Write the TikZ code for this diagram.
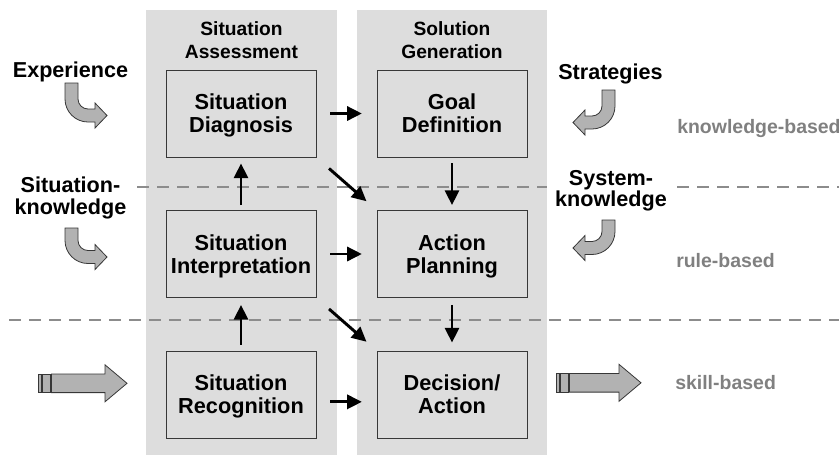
\documentclass[tikz,border=0pt]{standalone}
\usepackage{fontspec}
\setmainfont{Liberation Sans}
\usetikzlibrary{arrows.meta}
\definecolor{PanelGray}{RGB}{221,221,221}
\definecolor{DashGray}{RGB}{140,140,140}
\definecolor{LevelGray}{RGB}{128,128,128}
\definecolor{ArrowGray}{RGB}{178,178,178}
\definecolor{EdgeGray}{RGB}{55,55,55}

% bent block arrow: top corner of the shaft, mirror, length of the shaft
\newcommand{\bendarrow}[3]{%
    \draw[bigarrow, shift={#1}, xscale=#2]
        (0,0) -- (13,0) -- (13,#3)
        .. controls (13,#3+5.5) and (17.5,#3+10) .. (23,#3+10)
        -- (30,#3+10) -- (30,#3+4) -- (42,#3+16.5) -- (30,#3+29) -- (30,#3+23) -- (23,#3+23)
        .. controls (10.3,#3+23) and (0,#3+12.7) .. (0,#3) -- cycle;
}

% striped block arrow: start of the stripes, length of the body
\newcommand{\stripearrow}[2]{%
    \begin{scope}[shift={#1}]
        \draw[bigarrow] (0,-9.3) rectangle (3.5,9.3);
        \draw[bigarrow] (4.5,-9.3) rectangle (12,9.3);
        \draw[bigarrow] (13.5,-9.3) -- (#2,-9.3) -- (#2,-18.5) -- (#2+22,0)
            -- (#2,18.5) -- (#2,9.3) -- (13.5,9.3) -- cycle;
    \end{scope}
}

\begin{document}
\begin{tikzpicture}[x=0.75pt, y=-0.75pt,
        stage/.style={draw=EdgeGray, line width=0.7pt, minimum width=112.5pt, minimum height=65.25pt,
            align=center, text depth=0pt, font=\fontsize{16.3}{17.25}\selectfont\bfseries},
        phase/.style={align=center, text depth=0pt, font=\fontsize{14.4}{17.25}\selectfont\bfseries},
        source/.style={align=center, text depth=0pt, font=\fontsize{16.2}{16.2}\selectfont\bfseries},
        level/.style={anchor=base west, inner sep=0pt, text=LevelGray, font=\fontsize{14.6}{16}\selectfont\bfseries},
        flow/.style={line width=2.2pt, -{Triangle[length=11pt, width=10.5pt]}},
        levelline/.style={DashGray, line width=2pt, dash pattern=on 9pt off 6pt},
        bigarrow/.style={fill=ArrowGray, draw=EdgeGray, line width=0.6pt}]
        \useasboundingbox (0,0) rectangle (839,455);

        % Draw the two columns
        \foreach \x/\w in {146/191, 357/190} {
            \fill[PanelGray] (\x,10) rectangle ++(\w,445);
        }

        % Draw the level borders
        \draw[levelline] (137,187) -- (839,187);
        \draw[levelline] (9,320) -- (839,320);

        % Column titles
        \node[phase] (assess) at (241.5,40) {Situation\\Assessment};
        \node[phase] (solgen) at (452,40) {Solution\\Generation};

        % The six steps
        \node[stage] (sitdiag) at (241,113.5) {Situation\\Diagnosis};
        \node[stage] (goaldef) at (452,113.5) {Goal\\Definition};
        \node[stage] (sitinterp) at (241,254) {Situation\\Interpretation};
        \node[stage] (actplan) at (452,254) {Action\\Planning};
        \node[stage] (sitrecog) at (241,394.5) {Situation\\Recognition};
        \node[stage] (decision) at (452,394.5) {Decision/\\Action};

        % Arrows between the steps
        \draw[flow, shorten <=10.5pt, shorten >=11pt] (sitdiag.east) -- (goaldef.west);
        \draw[flow, shorten <=10.5pt, shorten >=11pt] (sitinterp.east) -- (actplan.west);
        \draw[flow, shorten <=10.5pt, shorten >=11pt] ([yshift=-5.5pt]sitrecog.east) -- ([yshift=-5.5pt]decision.west);
        \draw[flow, shorten <=3.75pt, shorten >=4.5pt] (sitinterp.north) -- (sitdiag.south);
        \draw[flow, shorten <=4.5pt, shorten >=5.25pt] (sitrecog.north) -- (sitinterp.south);
        \draw[flow, shorten <=4.5pt, shorten >=3.75pt] (goaldef.south) -- (actplan.north);
        \draw[flow, shorten <=5.25pt, shorten >=6pt] (actplan.south) -- (decision.north);
        \draw[flow, shorten <=12.5pt, shorten >=10pt] (sitdiag.south east) -- (actplan.north west);
        \draw[flow, shorten <=12.5pt, shorten >=10pt] (sitinterp.south east) -- (decision.north west);

        % Inputs on both sides
        \node[source, anchor=base, inner sep=0pt] (experience) at (70.5,77) {Experience};
        \node[source, anchor=base, inner sep=0pt] (strategies) at (610.5,79) {Strategies};
        \node[source] (sitknow) at (70.5,195.5) {Situation-\\knowledge};
        \node[source, fill=white, inner xsep=6.5pt, inner ysep=6pt] (sysknow) at (611,188.5) {System-\\knowledge};

        \foreach \x/\y/\flip/\len in {65/83/1/16, 65/228/1/12.5, 615/90/-1/16, 615/220/-1/11.5} {
            \bendarrow{(\x,\y)}{\flip}{\len}
        }
        \stripearrow{(38,383.3)}{67}
        \stripearrow{(556,382.8)}{63}

        % Level names
        \node[level] (knowbased) at (677,133) {knowledge-based};
        \node[level] (rulebased) at (676,267) {rule-based};
        \node[level] (skillbased) at (675,389) {skill-based};
    \end{tikzpicture}
\end{document}
